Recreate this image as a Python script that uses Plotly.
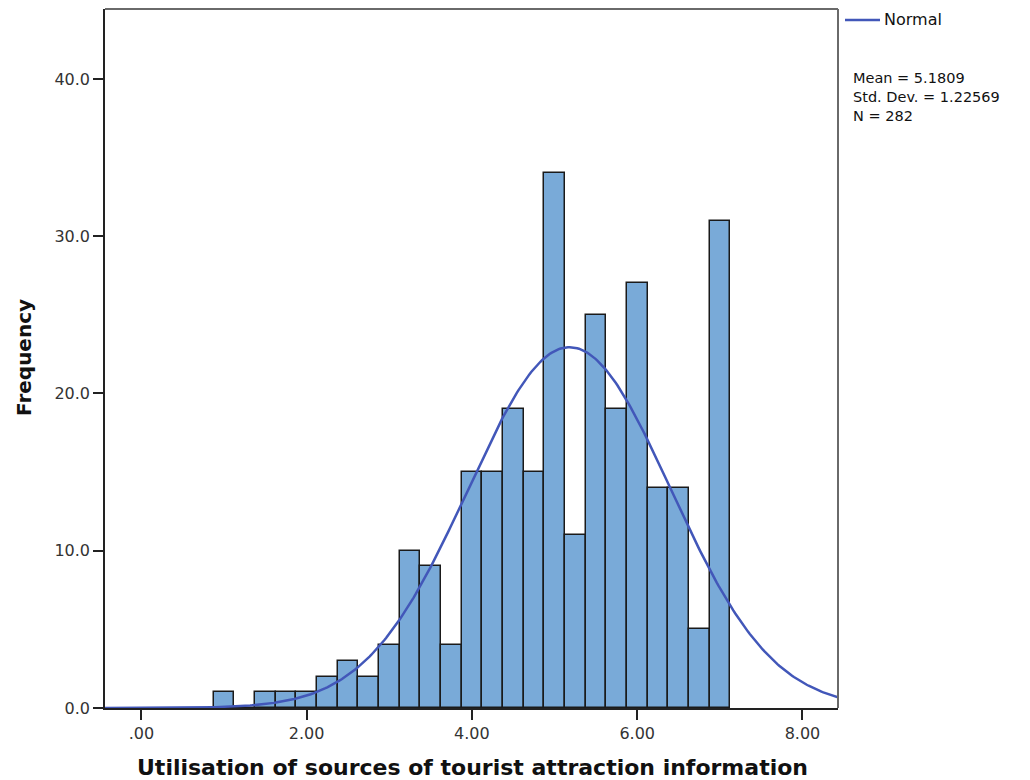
import numpy as np
import plotly.graph_objects as go

# Histogram bins (centre of each 0.25-wide bin) and observed counts
bin_centers = [1.00, 1.25, 1.50, 1.75, 2.00, 2.25, 2.50, 2.75, 3.00, 3.25, 3.50, 3.75, 4.00,
               4.25, 4.50, 4.75, 5.00, 5.25, 5.50, 5.75, 6.00, 6.25, 6.50, 6.75, 7.00]
counts = [1, 0, 1, 1, 1, 2, 3, 2, 4, 10, 9, 4, 15,
          15, 19, 15, 34, 11, 25, 19, 27, 14, 14, 5, 31]
bin_width = 0.25

# Summary statistics for the fitted normal curve
mean_val = 5.1809
sd_val = 1.22569
n_val = 282

x_ticks = [0, 2, 4, 6, 8]
x_tick_labels = [".00", "2.00", "4.00", "6.00", "8.00"]
y_ticks = [0, 10, 20, 30, 40]
y_tick_labels = ["0.0", "10.0", "20.0", "30.0", "40.0"]

x_range = [-0.44, 8.43]
y_range = [0, 44.45]

# Normal density scaled to counts per bin
xs = np.linspace(x_range[0], x_range[1], 400)
ys = n_val * bin_width / (sd_val * np.sqrt(2 * np.pi)) * np.exp(-0.5 * ((xs - mean_val) / sd_val) ** 2)

font_family = "DejaVu Sans, Verdana, sans-serif"
curve_color = "#4257b9"

# plot area in pixels
L, R, T, B = 105, 838, 9, 708
W, H = 1030, 780


def px_x(p):
    return (p - L) / (R - L)


def px_y(p):
    return (B - p) / (B - T)


fig = go.Figure()
fig.add_trace(go.Bar(
    x=bin_centers, y=counts, width=bin_width,
    marker=dict(color="#79aad8", line=dict(color="#1a1a1a", width=1.5)),
    showlegend=False, hoverinfo="x+y",
))
fig.add_trace(go.Scatter(
    x=xs, y=ys, mode="lines", name="Normal", showlegend=False,
    line=dict(color=curve_color, width=2.5),
))

axis_common = dict(
    ticks="outside", ticklen=10, tickwidth=1.5, tickcolor="#222222",
    showline=True, linecolor="#222222", linewidth=1.5, mirror=False,
    showgrid=False, zeroline=False,
    tickfont=dict(size=16, color="#333333", family=font_family),
)

fig.update_layout(
    width=W, height=H,
    margin=dict(l=L, r=W - R, t=T, b=H - B),
    paper_bgcolor="white", plot_bgcolor="white",
    font=dict(family=font_family, color="#222222"),
    bargap=0,
    showlegend=False,
    xaxis=dict(range=x_range, tickmode="array", tickvals=x_ticks, ticktext=x_tick_labels,
               **axis_common),
    yaxis=dict(range=y_range, tickmode="array", tickvals=y_ticks, ticktext=y_tick_labels,
               **axis_common),
)

# Grey top and right edges of the frame
fig.add_shape(type="line", xref="paper", yref="paper", x0=0, x1=1, y0=1, y1=1,
              line=dict(color="#6a6a6a", width=2))
fig.add_shape(type="line", xref="paper", yref="paper", x0=1, x1=1, y0=0, y1=1,
              line=dict(color="#6a6a6a", width=2))

# Legend key for the normal curve
fig.add_shape(
    type="line", xref="paper", yref="paper",
    x0=px_x(845), x1=px_x(880), y0=px_y(20), y1=px_y(20),
    line=dict(color=curve_color, width=2.5),
)
fig.add_annotation(
    xref="paper", yref="paper", x=px_x(882), y=px_y(20),
    xanchor="left", yanchor="middle", showarrow=False,
    text="Normal", font=dict(size=16, color="#111111", family=font_family),
)

# Axis titles
fig.add_annotation(
    xref="paper", yref="paper", x=px_x(472), y=px_y(767),
    xanchor="center", yanchor="middle", showarrow=False,
    text="<b>Utilisation of sources of tourist attraction information</b>",
    font=dict(size=22, color="#111111", family=font_family),
)
fig.add_annotation(
    xref="paper", yref="paper", x=px_x(24), y=px_y(358),
    xanchor="center", yanchor="middle", showarrow=False, textangle=-90,
    text="<b>Frequency</b>",
    font=dict(size=20, color="#111111", family=font_family),
)

# Descriptive statistics block
fig.add_annotation(
    xref="paper", yref="paper", x=px_x(851), y=px_y(68),
    xanchor="left", yanchor="top", align="left", showarrow=False,
    text=f"Mean = {mean_val}<br>Std. Dev. = {sd_val}<br>N = {n_val}",
    font=dict(size=14.5, color="#111111", family=font_family),
)

fig.write_html("out.html")
